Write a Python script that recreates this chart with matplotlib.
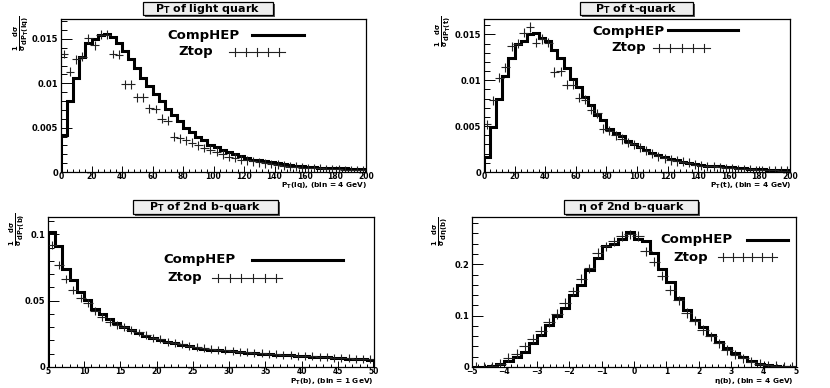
import matplotlib
matplotlib.use('Agg')
import matplotlib.pyplot as plt
from matplotlib.lines import Line2D
from matplotlib.patches import Rectangle
from matplotlib.ticker import FixedLocator, MultipleLocator, FixedFormatter
import numpy as np

plt.rcParams['font.family'] = ['DejaVu Sans']
plt.rcParams['font.weight'] = 'bold'
plt.rcParams['mathtext.fontset'] = 'custom'
plt.rcParams['mathtext.rm'] = 'DejaVu Sans:bold'
plt.rcParams['mathtext.it'] = 'DejaVu Sans:bold'
plt.rcParams['mathtext.bf'] = 'DejaVu Sans:bold'

# ---------------- data ----------------
# Panel 1: PT of light quark, 0..200, bin 4 GeV
lq_range = (0, 200)
lq_bin = 4
lq_comphep = [0.0042, 0.0080, 0.0106, 0.0130, 0.0146, 0.0150, 0.0155, 0.0156, 0.0152, 0.0146,
              0.0136, 0.0127, 0.0117, 0.0106, 0.0097, 0.0088, 0.0080, 0.0071, 0.0064, 0.0057,
              0.0050, 0.0045, 0.0040, 0.0036, 0.0031, 0.0028, 0.0025, 0.0022, 0.0020, 0.0018,
              0.0016, 0.0014, 0.0013, 0.0012, 0.0011, 0.0010, 0.0009, 0.0008, 0.0007, 0.0007,
              0.0006, 0.0006, 0.0005, 0.0005, 0.0004, 0.0004, 0.0004, 0.0003, 0.0003, 0.0003]
lq_ztop = [0.0133, 0.0113, 0.0127, 0.0130, 0.0151, 0.0143, 0.0155, 0.0155, 0.0133, 0.0132,
           0.0099, 0.0099, 0.0084, 0.0084, 0.0072, 0.0071, 0.0060, 0.0058, 0.0040, 0.0038,
           0.0036, 0.0033, 0.0030, 0.0027, 0.0025, 0.0023, 0.0020, 0.0017, 0.0016, 0.0014,
           0.0013, 0.0012, 0.0011, 0.0010, 0.0009, 0.0008, 0.0007, 0.0006, 0.0006, 0.0005,
           0.0004, 0.0004, 0.0004, 0.0003, 0.0003, 0.0003, 0.0002, 0.0002, 0.0002, 0.0002]

# Panel 2: PT of t-quark, 0..200, bin 4 GeV
t_range = (0, 200)
t_bin = 4
t_comphep = [0.0016, 0.0049, 0.0080, 0.0105, 0.0124, 0.0140, 0.0143, 0.0150, 0.0151, 0.0146,
             0.0143, 0.0133, 0.0124, 0.0113, 0.0101, 0.0093, 0.0082, 0.0073, 0.0062, 0.0057,
             0.0047, 0.0043, 0.0039, 0.0034, 0.0031, 0.0027, 0.0024, 0.0021, 0.0018, 0.0016,
             0.0014, 0.0013, 0.0011, 0.0010, 0.0009, 0.0008, 0.0007, 0.0006, 0.0006, 0.0005,
             0.0005, 0.0004, 0.0004, 0.0003, 0.0003, 0.0003, 0.0002, 0.0002, 0.0002, 0.0002]
t_ztop = [0.0052, 0.0078, 0.0103, 0.0114, 0.0137, 0.0140, 0.0152, 0.0158, 0.0141, 0.0145,
          0.0141, 0.0109, 0.0110, 0.0095, 0.0095, 0.0081, 0.0079, 0.0068, 0.0064, 0.0047,
          0.0045, 0.0040, 0.0036, 0.0032, 0.0030, 0.0027, 0.0023, 0.0020, 0.0017, 0.0015,
          0.0013, 0.0012, 0.0011, 0.0010, 0.0008, 0.0007, 0.0006, 0.0006, 0.0005, 0.0004,
          0.0004, 0.0003, 0.0003, 0.0003, 0.0002, 0.0002, 0.0002, 0.0002, 0.0001, 0.0001]

# Panel 3: PT of 2nd b-quark, 5..50, bin 1 GeV
b_range = (5, 50)
b_bin = 1
b_comphep = [0.1017, 0.0911, 0.0741, 0.0654, 0.0566, 0.0504, 0.0437, 0.0396, 0.0362, 0.0329,
             0.0304, 0.0279, 0.0259, 0.0236, 0.0221, 0.0204, 0.0191, 0.0179, 0.0166, 0.0159,
             0.0146, 0.0136, 0.0130, 0.0125, 0.0121, 0.0117, 0.0113, 0.0108, 0.0104, 0.0100,
             0.0097, 0.0094, 0.0090, 0.0087, 0.0084, 0.0081, 0.0078, 0.0075, 0.0072, 0.0069,
             0.0066, 0.0063, 0.0060, 0.0057, 0.0054]
b_ztop = [0.0917, 0.0771, 0.0662, 0.0580, 0.0520, 0.0480, 0.0420, 0.0380, 0.0340, 0.0320,
          0.0300, 0.0280, 0.0260, 0.0240, 0.0220, 0.0210, 0.0190, 0.0180, 0.0170, 0.0160,
          0.0150, 0.0140, 0.0135, 0.0130, 0.0125, 0.0120, 0.0115, 0.0110, 0.0107, 0.0103,
          0.0099, 0.0095, 0.0092, 0.0089, 0.0086, 0.0083, 0.0080, 0.0077, 0.0074, 0.0071,
          0.0068, 0.0066, 0.0063, 0.0061, 0.0058]

# Panel 4: eta of 2nd b-quark, -5..5, bin 0.25
eta_range = (-5, 5)
eta_bin = 0.25
eta_comphep = [0.000, 0.000, 0.001, 0.005, 0.011, 0.019, 0.030, 0.046, 0.063, 0.082,
               0.099, 0.115, 0.140, 0.160, 0.188, 0.212, 0.235, 0.240, 0.250, 0.262,
               0.250, 0.245, 0.222, 0.190, 0.165, 0.135, 0.110, 0.092, 0.077, 0.062,
               0.049, 0.037, 0.027, 0.019, 0.012, 0.006, 0.003, 0.001, 0.000, 0.000]
eta_ztop = [0.000, 0.000, 0.001, 0.006, 0.018, 0.026, 0.040, 0.055, 0.070, 0.087,
            0.103, 0.125, 0.147, 0.172, 0.192, 0.222, 0.235, 0.245, 0.255, 0.258,
            0.255, 0.225, 0.205, 0.178, 0.150, 0.130, 0.105, 0.090, 0.072, 0.060,
            0.046, 0.033, 0.024, 0.017, 0.010, 0.006, 0.003, 0.002, 0.001, 0.001]

# tick labels
lq_xticks = [0, 20, 40, 60, 80, 100, 120, 140, 160, 180, 200]
lq_yticks = [0, 0.005, 0.01, 0.015]
lq_yticklabels = ['0', '0.005', '0.01', '0.015']
b_xticks = [5, 10, 15, 20, 25, 30, 35, 40, 45, 50]
b_yticks = [0, 0.05, 0.1]
b_yticklabels = ['0', '0.05', '0.1']
eta_xticks = [-5, -4, -3, -2, -1, 0, 1, 2, 3, 4, 5]
eta_yticks = [0, 0.1, 0.2]
eta_yticklabels = ['0', '0.1', '0.2']

titles = [r'$P_{T}$ of light quark', r'$P_{T}$ of t-quark',
          r'$P_{T}$ of 2nd b-quark', r'$\eta$ of 2nd b-quark']
xtitles = [r'$P_{T}(lq)$, (bin = 4 GeV)', r'$P_{T}(t)$, (bin = 4 GeV)',
           r'$P_{T}(b)$, (bin = 1 GeV)', r'$\eta(b)$, (bin = 4 GeV)']
ytitles = [r'$\frac{1}{\sigma}\frac{d\sigma}{dP_{T}(lq)}$', r'$\frac{1}{\sigma}\frac{d\sigma}{dP_{T}(t)}$',
           r'$\frac{1}{\sigma}\frac{d\sigma}{dP_{T}(b)}$', r'$\frac{1}{\sigma}\frac{d\sigma}{d\eta(b)}$']
leg_labels = ['CompHEP', 'Ztop']

# ---------------- layout ----------------
W, H = 830, 388
fig = plt.figure(figsize=(W / 100, H / 100), dpi=100)
fig.patch.set_facecolor('white')


def fx(x):
    return x / W


def fy(y):
    return 1 - y / H


def make_axes(l, r, t, b):
    return fig.add_axes([fx(l), fy(b), (r - l) / W, (b - t) / H])


def draw_panel(ax, rng, binw, comp, ztop, yerr, xticks, xminor, yticks, ylabels, yminor, ylim):
    edges = np.arange(rng[0], rng[1] + binw / 2, binw)
    centers = (edges[:-1] + edges[1:]) / 2
    ax.stairs(comp, edges, color='black', lw=2.2, baseline=0)
    ax.errorbar(centers, ztop, xerr=binw * 0.7, yerr=yerr, fmt='none',
                ecolor='#222222', elinewidth=0.8, capsize=0)
    ax.set_xlim(rng)
    ax.set_ylim(0, ylim)
    ax.xaxis.set_major_locator(FixedLocator(xticks))
    ax.xaxis.set_minor_locator(MultipleLocator(xminor))
    ax.yaxis.set_major_locator(FixedLocator(yticks))
    ax.yaxis.set_major_formatter(FixedFormatter(ylabels))
    ax.yaxis.set_minor_locator(MultipleLocator(yminor))
    ax.tick_params(axis='both', which='both', direction='in', width=0.7)
    ax.tick_params(axis='y', which='major', length=8, pad=2, labelsize=6)
    ax.tick_params(axis='y', which='minor', length=4)
    ax.tick_params(axis='x', which='major', length=4, pad=0.3, labelsize=5.5)
    ax.tick_params(axis='x', which='minor', length=2)
    for s in ax.spines.values():
        s.set_linewidth(0.9)
    for lab in ax.get_xticklabels() + ax.get_yticklabels():
        lab.set_fontweight('bold')


def title_box(x0, x1, y0, y1, text):
    fig.add_artist(Rectangle((fx(x0 + 1.5), fy(y1 + 1.5)), (x1 - x0) / W, (y1 - y0) / H,
                             transform=fig.transFigure, facecolor='#555555', edgecolor='none'))
    fig.add_artist(Rectangle((fx(x0), fy(y1)), (x1 - x0) / W, (y1 - y0) / H,
                             transform=fig.transFigure, facecolor='#eeeeee', edgecolor='black', lw=0.9))
    fig.text(fx((x0 + x1) / 2), fy((y0 + y1) / 2), text, ha='center', va='center',
             fontsize=8, fontweight='bold')


def legend(tx_c, ty_c, line_x0, line_x1, line_y, tx_z, ty_z, cx0, cx1, cy, nt):
    fig.text(fx(tx_c), fy(ty_c), leg_labels[0], ha='left', va='center', fontsize=9.5, fontweight='bold')
    fig.add_artist(Line2D([fx(line_x0), fx(line_x1)], [fy(line_y), fy(line_y)],
                          transform=fig.transFigure, color='black', lw=2.2))
    fig.text(fx(tx_z), fy(ty_z), leg_labels[1], ha='left', va='center', fontsize=9.5, fontweight='bold')
    fig.add_artist(Line2D([fx(cx0), fx(cx1)], [fy(cy), fy(cy)],
                          transform=fig.transFigure, color='#222222', lw=0.8))
    step = (cx1 - cx0) / nt
    for i in range(nt):
        xm = cx0 + step * (i + 0.5)
        fig.add_artist(Line2D([fx(xm), fx(xm)], [fy(cy - 4), fy(cy + 4)],
                              transform=fig.transFigure, color='#222222', lw=0.8))


# Panel 1
ax1 = make_axes(61, 366, 19, 172)
draw_panel(ax1, lq_range, lq_bin, lq_comphep, lq_ztop, 0.0005, lq_xticks, 4,
           lq_yticks, lq_yticklabels, 0.001, 0.01725)
# Panel 2
ax2 = make_axes(484, 790, 19, 172)
draw_panel(ax2, t_range, t_bin, t_comphep, t_ztop, 0.0005, lq_xticks, 4,
           lq_yticks, lq_yticklabels, 0.001, 0.01668)
# Panel 3
ax3 = make_axes(48, 374, 217, 367)
draw_panel(ax3, b_range, b_bin, b_comphep, b_ztop, 0.003, b_xticks, 1,
           b_yticks, b_yticklabels, 0.01, 0.1130)
# Panel 4
ax4 = make_axes(472, 796, 217, 367)
draw_panel(ax4, eta_range, eta_bin, eta_comphep, eta_ztop, 0.009, eta_xticks, 0.2,
           eta_yticks, eta_yticklabels, 0.02, 0.292)

# titles
title_box(143, 273, 2, 15, titles[0])
title_box(580, 693, 2, 15, titles[1])
title_box(133, 278, 200, 214, titles[2])
title_box(564, 698, 200, 214, titles[3])

# x-axis titles
fig.text(fx(367), fy(185.5), xtitles[0], ha='right', va='center', fontsize=5.3, fontweight='bold')
fig.text(fx(792), fy(185.5), xtitles[1], ha='right', va='center', fontsize=5.3, fontweight='bold')
fig.text(fx(373), fy(381.5), xtitles[2], ha='right', va='center', fontsize=5.3, fontweight='bold')
fig.text(fx(794), fy(381.5), xtitles[3], ha='right', va='center', fontsize=5.3, fontweight='bold')

# y-axis titles
fig.text(fx(21), fy(16), ytitles[0], ha='center', va='top', rotation=90, fontsize=7)
fig.text(fx(443), fy(16), ytitles[1], ha='center', va='top', rotation=90, fontsize=7)
fig.text(fx(17), fy(213), ytitles[2], ha='center', va='top', rotation=90, fontsize=7)
fig.text(fx(440), fy(217), ytitles[3], ha='center', va='top', rotation=90, fontsize=7)

# legends
legend(167, 35, 252, 304, 35, 178, 52, 229, 285, 52, 5)
legend(592, 31, 668, 738, 30, 611, 48, 653, 710, 48, 5)
legend(163, 259, 252, 343, 260, 167, 277, 212, 282, 278, 6)
legend(660, 240, 747, 788, 240, 673, 257, 718, 777, 257, 6)

fig.savefig('out.png', dpi=100)
